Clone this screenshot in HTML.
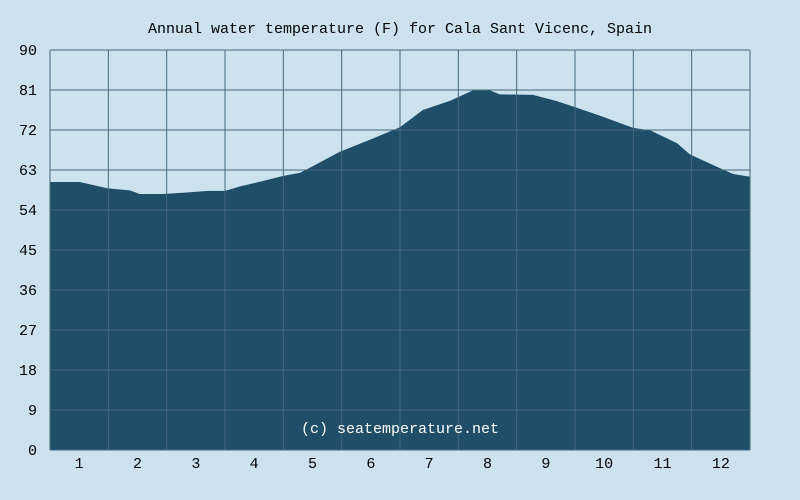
<!DOCTYPE html>
<html><head><meta charset="utf-8"><style>
body{margin:0;background:#cce3ef;}
svg{display:block;font-family:"Liberation Mono",monospace;}
</style></head><body>
<svg id="c" width="800" height="500"></svg>
<script>
const months=[0.5,1.01,1.48,1.87,2.04,2.44,2.78,3.21,3.5,3.76,4.22,4.49,4.79,5.01,5.47,6.04,6.5,6.89,7.36,7.75,8.04,8.21,8.78,9.19,9.53,9.93,10.49,10.79,11.25,11.47,11.93,12.21,12.5];
const temps=[60.3,60.3,58.9,58.4,57.6,57.6,57.9,58.3,58.3,59.3,60.75,61.65,62.4,63.9,67.1,70.1,72.6,76.5,78.6,80.9,80.9,80.0,79.9,78.5,77.0,75.2,72.5,71.9,69.0,66.5,63.75,62.1,61.5];
const yTicks=[0,9,18,27,36,45,54,63,72,81,90];
const xTicks=[1,2,3,4,5,6,7,8,9,10,11,12];
const L=50,R=750,T=50,B=450;
const sx=m=>L+(m-0.5)/12*(R-L);
const sy=v=>B-v/90*(B-T);
const NS="http://www.w3.org/2000/svg";
const svg=document.getElementById('c');
function mk(t,a){const e=document.createElementNS(NS,t);for(const k in a)e.setAttribute(k,a[k]);svg.appendChild(e);return e;}
const bg=mk('rect',{x:L,y:T,width:R-L,height:B-T,fill:'#cce3ef'});


const n=Math.min(months.length,temps.length);
let d='M'+sx(months[0])+','+B;
for(let i=0;i<n;i++){d+=' L'+sx(months[i]).toFixed(1)+','+sy(temps[i]).toFixed(1);}
d+=' L'+sx(months[n-1])+','+B+' Z';
const area=mk('path',{d:d,fill:'#1f4e69'});


yTicks.forEach(v=>{
  const g=mk('line',{x1:L,x2:R,y1:sy(v),y2:sy(v),stroke:'#46677f','stroke-width':1});
  
  
  const t=mk('text',{x:37,y:sy(v)+5,'text-anchor':'end','font-size':15,fill:'#000'});
  t.textContent=v;
  
  
});
for(let i=0;i<=12;i++){
  const x=L+i*(R-L)/12;
  const g=mk('line',{x1:x,x2:x,y1:T,y2:B,stroke:'#46677f','stroke-width':1});
  
  
}
xTicks.forEach(m=>{
  const t=mk('text',{x:sx(m),y:468,'text-anchor':'middle','font-size':15,fill:'#000'});
  t.textContent=m;
  
  
});
const title=mk('text',{x:400,y:33,'text-anchor':'middle','font-size':15,fill:'#000'});
title.textContent='Annual water temperature (F) for Cala Sant Vicenc, Spain';


const cr=mk('text',{x:400,y:433,'text-anchor':'middle','font-size':15,fill:'#ffffff'});
cr.textContent='(c) seatemperature.net';


</script>
</body></html>
